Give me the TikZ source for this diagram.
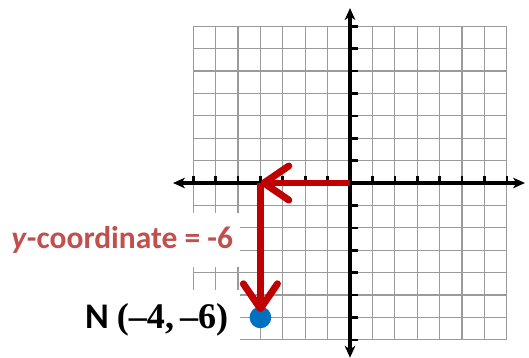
\documentclass[tikz,border=0pt]{standalone}
\usepackage{fontspec}
\setmainfont{Carlito}
\newfontfamily\coordfont{Liberation Serif}
\usetikzlibrary{arrows.meta}
\definecolor{gridgray}  {RGB}{155, 155, 155}
\definecolor{pathred}   {RGB}{192,   0,   0}
\definecolor{labelred}  {RGB}{192,  80,  77}
\definecolor{pointblue} {RGB}{  0, 112, 192}

\begin{document}
\begin{tikzpicture}[x=0.6cm,y=0.6cm,
	axis/.style={line width=2.8pt,{Stealth[length=9pt,width=8pt,inset=2.5pt]}-{Stealth[length=9pt,width=8pt,inset=2.5pt]}},
	tick/.style={line width=2pt},
	move/.style={line width=5.3pt,pathred,-{Straight Barb[length=19pt,width=26pt,round]}},
	whitelabel/.style={fill=white,anchor=east}
	]
	\useasboundingbox (-15.625,-7.81) rectangle (7.99,8.17);
	\draw[gridgray,line width=1pt,step=1] (-7,-7) grid (7,7);
	% labels sit on white boxes over the grid
	\node[whitelabel,inner xsep=5.3pt,minimum height=41pt,text=labelred] (ylab) at (-4.9,-2.54)
		{\fontsize{24}{26}\selectfont\bfseries\textit{y}-coordinate = -6};
	\node[whitelabel,inner xsep=9pt,minimum height=1.6cm] (Nlab) at (-4.9,-6.1)
		{\fontsize{27.5}{29}\selectfont\bfseries N {\coordfont(–4,\,–6)}};
	% axes
	\draw[axis] (-7.9,0) -- (7.81,0);
	\draw[axis] (0,-7.8) -- (0,7.81);
	\foreach \k in {-7,...,-1,1,2,...,7} {
		\draw[tick] (\k,-0.05) -- (\k,0.3);
		\draw[tick] (0,\k) -- (0.35,\k);
	}
	% move left 4, then down 6
	\coordinate (O) at (0,0);
	\coordinate (Nx) at (-4,0);
	\node[circle,fill=pointblue,inner sep=0pt,minimum size=16.5pt] (N) at (-4,-6) {};
	\draw[move] (O) -- (Nx);
	\draw[move,shorten >=4pt] (Nx) -- (N.center);
\end{tikzpicture}
\end{document}
